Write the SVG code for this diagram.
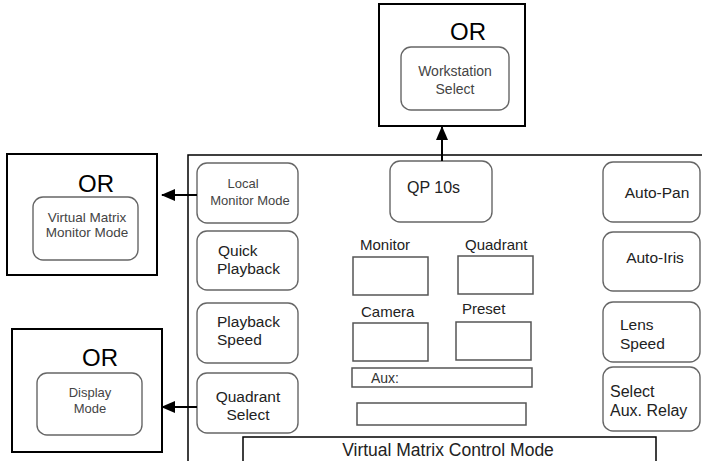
<svg xmlns="http://www.w3.org/2000/svg" width="702" height="461" viewBox="0 0 702 461">
<defs>
<style>
.bg{fill:#fff}
.or{fill:#fff;stroke:#000;stroke-width:2}
.rb{fill:#fff;stroke:#666;stroke-width:1.4}
.sq{fill:#fff;stroke:#555;stroke-width:1.5}
.pan{fill:none;stroke:#000;stroke-width:1.5}
.con{fill:none;stroke:#000;stroke-width:2}
text{font-family:"Liberation Sans",Arial,sans-serif}
.ort{font-size:24px;fill:#000;text-anchor:middle}
.sm{font-size:13px;fill:#444;text-anchor:middle}
.md{font-size:15.5px;fill:#222}
.mc{font-size:15.5px;fill:#222;text-anchor:middle}
.lb{font-size:15px;fill:#222}
</style>
<marker id="ah" markerWidth="14" markerHeight="12" refX="13" refY="6" orient="auto" markerUnits="userSpaceOnUse">
<path d="M0,0 L14,6 L0,12 Z" fill="#000"/>
</marker>
</defs>
<rect class="bg" x="0" y="0" width="702" height="461"/>

<g id="panel">
<polyline class="pan" points="188,461 188,155 702,155"/>
</g>

<g id="or-workstation">
<rect class="or" x="379" y="4" width="146" height="122"/>
<text class="ort" x="468" y="40">OR</text>
<rect class="rb" x="401" y="47" width="108" height="63" rx="10"/>
<text class="sm" x="455" y="76" style="font-size:14px">Workstation</text>
<text class="sm" x="455" y="94" style="font-size:14px">Select</text>
</g>

<g id="or-vmm">
<rect class="or" x="7" y="154" width="150" height="121"/>
<text class="ort" x="96" y="192">OR</text>
<rect class="rb" x="33" y="197" width="105" height="63" rx="10"/>
<text class="sm" x="87" y="222" style="font-size:13.5px">Virtual Matrix</text>
<text class="sm" x="87" y="237" style="font-size:13.5px">Monitor Mode</text>
</g>

<g id="or-display">
<rect class="or" x="12" y="329" width="150" height="123"/>
<text class="ort" x="100" y="366">OR</text>
<rect class="rb" x="37" y="373" width="105" height="62" rx="10"/>
<text class="sm" x="90" y="397">Display</text>
<text class="sm" x="90" y="413">Mode</text>
</g>

<g id="local-monitor">
<rect class="rb" x="197" y="163" width="101" height="60" rx="10"/>
<text class="sm" x="243" y="188">Local</text>
<text class="sm" x="250" y="205">Monitor Mode</text>
</g>

<g id="quick-playback">
<rect class="rb" x="197" y="231" width="101" height="59" rx="10"/>
<text class="md" x="218" y="256">Quick</text>
<text class="md" x="217" y="274">Playback</text>
</g>

<g id="playback-speed">
<rect class="rb" x="197" y="303" width="101" height="60" rx="10"/>
<text class="md" x="217" y="327">Playback</text>
<text class="md" x="217" y="345">Speed</text>
</g>

<g id="quadrant-select">
<rect class="rb" x="197" y="373" width="101" height="60" rx="10"/>
<text class="mc" x="248" y="402">Quadrant</text>
<text class="mc" x="248" y="420">Select</text>
</g>

<g id="qp">
<rect class="rb" x="390" y="161" width="102" height="61" rx="10"/>
<text class="md" x="407" y="193" style="font-size:16px">QP  10s</text>
</g>

<g id="monitor">
<text class="lb" x="360" y="250">Monitor</text>
<rect class="sq" x="353" y="257" width="75" height="38"/>
</g>

<g id="quadrant">
<text class="lb" x="465" y="250">Quadrant</text>
<rect class="sq" x="458" y="256" width="75" height="38"/>
</g>

<g id="camera">
<text class="lb" x="361" y="317">Camera</text>
<rect class="sq" x="353" y="323" width="75" height="38"/>
</g>

<g id="preset">
<text class="lb" x="462" y="314">Preset</text>
<rect class="sq" x="456" y="322" width="75" height="38"/>
</g>

<g id="aux">
<rect class="sq" x="352" y="368" width="180" height="19"/>
<text class="lb" x="371" y="383" style="font-size:14px;fill:#333">Aux:</text>
</g>

<g id="aux-field">
<rect class="sq" x="357" y="403" width="169" height="22"/>
</g>

<g id="vm-control">
<rect class="pan" x="243" y="437" width="413" height="40"/>
<text class="mc" x="448" y="456" style="font-size:17.5px">Virtual Matrix Control Mode</text>
</g>

<g id="auto-pan">
<rect class="rb" x="603" y="162" width="97" height="60" rx="10"/>
<text class="mc" x="657" y="198">Auto-Pan</text>
</g>

<g id="auto-iris">
<rect class="rb" x="603" y="232" width="97" height="59" rx="10"/>
<text class="mc" x="655" y="263">Auto-Iris</text>
</g>

<g id="lens-speed">
<rect class="rb" x="603" y="302" width="97" height="60" rx="10"/>
<text class="md" x="620" y="330">Lens</text>
<text class="md" x="620" y="349">Speed</text>
</g>

<g id="select-aux">
<rect class="rb" x="603" y="367" width="97" height="64" rx="10"/>
<text class="md" x="610" y="397" style="font-size:16px">Select</text>
<text class="md" x="610" y="416" style="font-size:16px">Aux. Relay</text>
</g>

<g id="connectors">
<line class="con" x1="442" y1="161" x2="442" y2="127" marker-end="url(#ah)"/>
<line class="con" x1="197" y1="195" x2="162" y2="195" marker-end="url(#ah)"/>
<line class="con" x1="197" y1="407" x2="162" y2="407" marker-end="url(#ah)"/>
</g>
</svg>
